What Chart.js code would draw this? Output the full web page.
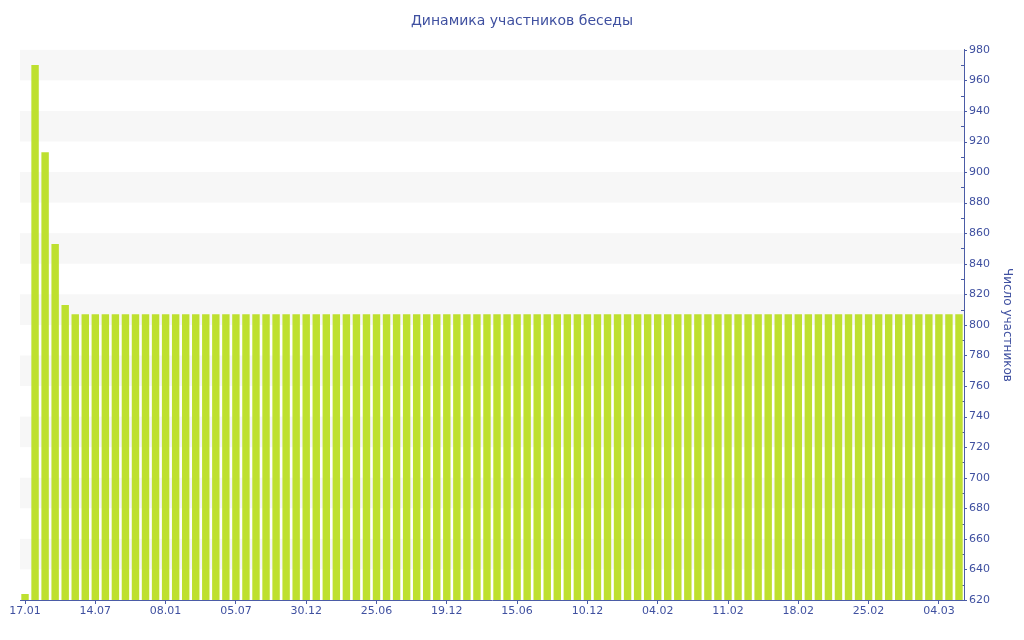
<!DOCTYPE html>
<html lang="ru">
  <head>
    <meta charset="UTF-8" />
    <title>Динамика участников беседы</title>
    <script src="https://cdn.jsdelivr.net/npm/chart.js@4.4.0/dist/chart.umd.min.js"></script>
    <style>
      html, body { margin: 0; padding: 0; background: #fff; }
      #wrap { width: 1024px; height: 640px; }
    </style>
  </head>
  <body>
    <div id="wrap"><canvas id="myChart"></canvas></div>
    <script>
      // labels under the axis, one every 7 bars
      const tickLabels = ['17.01', '14.07', '08.01', '05.07', '30.12', '25.06', '19.12',
                          '15.06', '10.12', '04.02', '11.02', '18.02', '25.02', '04.03'];
      const labelEvery = 7;

      // members per bar
      const members = [
        624, 970, 913, 853, 813, 807, 807, 807, 807, 807,
        807, 807, 807, 807, 807, 807, 807, 807, 807, 807,
        807, 807, 807, 807, 807, 807, 807, 807, 807, 807,
        807, 807, 807, 807, 807, 807, 807, 807, 807, 807,
        807, 807, 807, 807, 807, 807, 807, 807, 807, 807,
        807, 807, 807, 807, 807, 807, 807, 807, 807, 807,
        807, 807, 807, 807, 807, 807, 807, 807, 807, 807,
        807, 807, 807, 807, 807, 807, 807, 807, 807, 807,
        807, 807, 807, 807, 807, 807, 807, 807, 807, 807,
        807, 807, 807, 807
      ];

      const yMin = 620, yMax = 980;
      const blue = '#3f50a0';
      const axisBlue = '#4b5ca6';

      const labels = members.map((v, i) =>
        i % labelEvery === 0 ? (tickLabels[i / labelEvery] || '') : '');

      Chart.defaults.font.family = 'DejaVu Sans';
      Chart.defaults.font.size = 11;
      Chart.defaults.color = blue;

      // gray stripes every other 20 units, plus minor marks (bars cover them)
      const bands = {
        id: 'bands',
        beforeDatasetsDraw(chart) {
          const { ctx, chartArea, scales: { y } } = chart;
          ctx.save();
          ctx.fillStyle = '#f7f7f7';
          for (let v = yMax; v > yMin; v -= 40) {
            const top = y.getPixelForValue(v);
            const bot = y.getPixelForValue(v - 20);
            ctx.fillRect(chartArea.left, top, chartArea.right - chartArea.left, bot - top);
          }
          ctx.strokeStyle = axisBlue;
          ctx.lineWidth = 1;
          for (let v = yMin + 10; v < yMax; v += 20) {
            const py = Math.round(y.getPixelForValue(v)) + 0.5;
            ctx.beginPath();
            ctx.moveTo(y.left - 3, py);
            ctx.lineTo(y.left, py);
            ctx.stroke();
          }
          ctx.restore();
        }
      };

      // short major marks on the outer side of the right axis
      const yMarks = {
        id: 'yMarks',
        afterDraw(chart) {
          const { ctx, scales: { y } } = chart;
          ctx.save();
          ctx.strokeStyle = axisBlue;
          ctx.lineWidth = 1;
          for (let v = yMin; v <= yMax; v += 20) {
            const py = Math.round(y.getPixelForValue(v)) + 0.5;
            ctx.beginPath();
            ctx.moveTo(y.left, py);
            ctx.lineTo(y.left + 3, py);
            ctx.stroke();
          }
          ctx.restore();
        }
      };

      new Chart(document.getElementById('myChart'), {
        type: 'bar',
        data: {
          labels: labels,
          datasets: [{
            data: members,
            backgroundColor: '#bee02f',
            borderWidth: 0,
            categoryPercentage: 1,
            barPercentage: 0.74
          }]
        },
        options: {
          responsive: true,
          maintainAspectRatio: false,
          animation: false,
          layout: { padding: { left: 20, right: 0, top: 0, bottom: 0 } },
          plugins: {
            legend: { display: false },
            tooltip: { enabled: false },
            title: {
              display: true,
              text: 'Динамика участников беседы',
              color: blue,
              font: { size: 14, weight: 'normal' },
              padding: { top: 13, bottom: 20 }
            }
          },
          scales: {
            x: {
              type: 'category',
              grid: {
                offset: false,
                drawOnChartArea: false,
                tickLength: 4,
                color: c => (c.index % labelEvery === 0 ? axisBlue : 'rgba(0,0,0,0)')
              },
              border: { color: axisBlue, width: 1 },
              ticks: {
                autoSkip: false,
                maxRotation: 0,
                padding: 1,
                color: blue,
                font: { size: 11 }
              },
              afterFit(s) { s.height = 40; }
            },
            y: {
              position: 'right',
              min: yMin,
              max: yMax,
              grid: { drawOnChartArea: false, drawTicks: false },
              border: { color: axisBlue, width: 1 },
              ticks: {
                stepSize: 20,
                padding: 5,
                color: blue,
                font: { size: 11 }
              },
              title: {
                display: true,
                text: 'Число участников',
                color: blue,
                font: { size: 12 },
                padding: { top: 10, bottom: 4 }
              },
              afterFit(s) { s.width = 60; }
            }
          }
        },
        plugins: [bands, yMarks]
      });
    </script>
  </body>
</html>
